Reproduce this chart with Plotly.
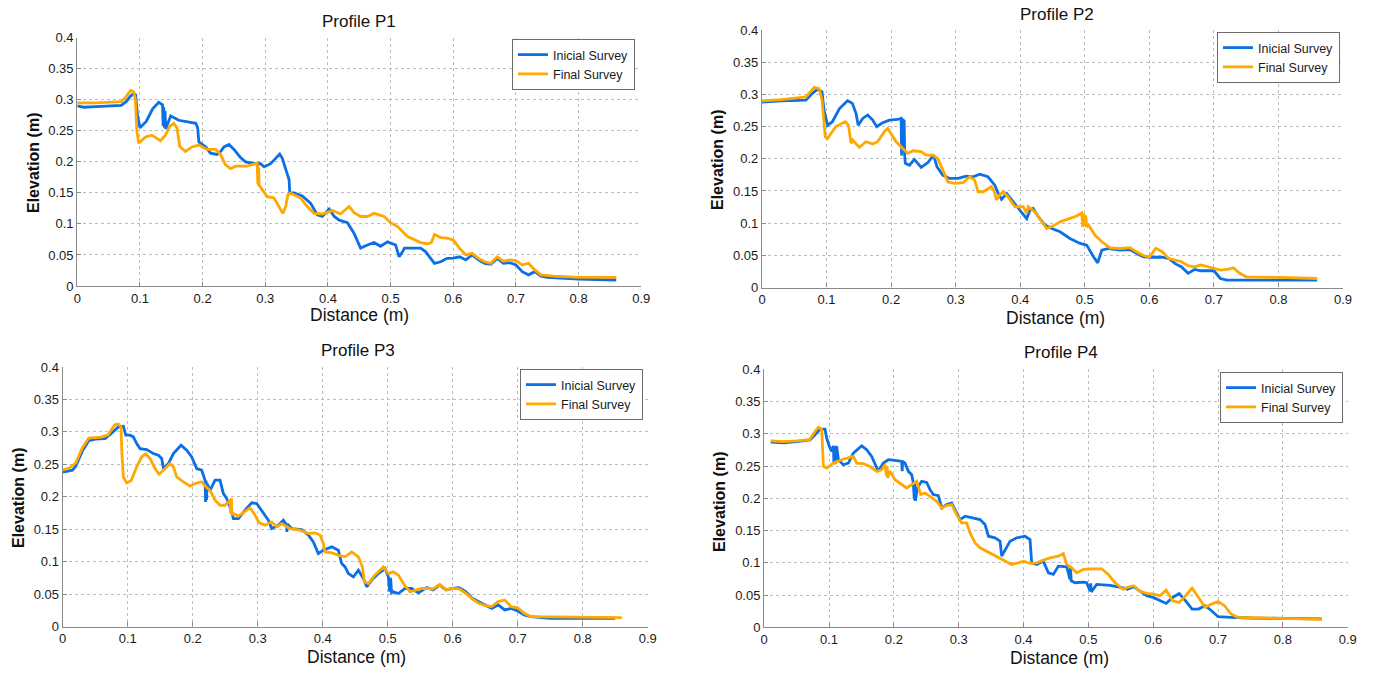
import plotly.graph_objects as go

W, H = 1376, 673

# ---------------- data (distance m, elevation m) ----------------
p1_ini_x = [0, 0.01, 0.03, 0.05, 0.07, 0.078, 0.085, 0.09, 0.093, 0.096, 0.1, 0.11, 0.12, 0.13, 0.135,
            0.136, 0.137, 0.138, 0.139, 0.140, 0.141, 0.145, 0.149, 0.162, 0.175, 0.189, 0.192, 0.194, 0.205,
            0.2125, 0.223, 0.229, 0.234, 0.242, 0.25, 0.255, 0.26, 0.2685, 0.279, 0.2925, 0.298, 0.3085,
            0.3165, 0.323, 0.327, 0.3325, 0.338, 0.339, 0.346, 0.359, 0.3725, 0.383, 0.391, 0.402, 0.41,
            0.418, 0.431, 0.4415, 0.452, 0.463, 0.4735, 0.484, 0.495, 0.508, 0.5135, 0.519, 0.522, 0.548,
            0.556, 0.562, 0.57, 0.58, 0.59, 0.60, 0.61, 0.62, 0.63, 0.64, 0.65, 0.66, 0.67, 0.68, 0.69,
            0.70, 0.71, 0.72, 0.73, 0.74, 0.75, 0.8, 0.86]
p1_ini_y = [0.29, 0.288, 0.289, 0.29, 0.291, 0.297, 0.306, 0.31, 0.308, 0.275, 0.255, 0.265, 0.285, 0.296, 0.293,
            0.292, 0.258, 0.288, 0.255, 0.282, 0.253, 0.265, 0.274, 0.267, 0.265, 0.262, 0.255, 0.232, 0.224,
            0.214, 0.212, 0.217, 0.224, 0.228, 0.22, 0.214, 0.2075, 0.2, 0.198, 0.197, 0.192, 0.197,
            0.206, 0.2125, 0.206, 0.187, 0.171, 0.15, 0.15, 0.145, 0.133, 0.1145, 0.112, 0.124, 0.112,
            0.106, 0.102, 0.085, 0.061, 0.066, 0.07, 0.064, 0.071, 0.066, 0.047, 0.055, 0.061, 0.061,
            0.055, 0.047, 0.0365, 0.039, 0.0445, 0.045, 0.047, 0.042, 0.05, 0.042, 0.0365, 0.035, 0.0445, 0.0365, 0.0375,
            0.034, 0.023, 0.018, 0.023, 0.016, 0.014, 0.011, 0.0097]

p1_fin_x = [0, 0.03, 0.07, 0.078, 0.085, 0.09, 0.0927, 0.095, 0.098, 0.1087, 0.119, 0.127, 0.1327, 0.1406,
            0.1475, 0.154, 0.159, 0.1635, 0.1726, 0.183, 0.194, 0.207, 0.2206, 0.2285, 0.2366, 0.2445, 0.2525,
            0.271, 0.2818, 0.287, 0.288, 0.2885, 0.289, 0.2895, 0.29, 0.295, 0.303, 0.3136, 0.3217, 0.328,
            0.3325, 0.336, 0.34, 0.356, 0.367, 0.378, 0.391, 0.407, 0.42, 0.4337, 0.4417, 0.452, 0.463,
            0.4735, 0.4896, 0.5, 0.511, 0.527, 0.548, 0.559, 0.565, 0.57, 0.58, 0.59, 0.60, 0.61, 0.62, 0.63,
            0.64, 0.65, 0.66, 0.67, 0.68, 0.69, 0.70, 0.71, 0.72, 0.73, 0.74, 0.76, 0.8, 0.86]
p1_fin_y = [0.295, 0.295, 0.297, 0.305, 0.315, 0.313, 0.30, 0.25, 0.23, 0.24, 0.243, 0.238, 0.234, 0.243,
            0.257, 0.262, 0.255, 0.2247, 0.2167, 0.224, 0.227, 0.22, 0.22, 0.212, 0.195, 0.189, 0.193,
            0.193, 0.197, 0.198, 0.165, 0.195, 0.162, 0.19, 0.1625, 0.155, 0.144, 0.142, 0.128, 0.117,
            0.128, 0.1468, 0.1495, 0.142, 0.128, 0.117, 0.116, 0.1215, 0.116, 0.128, 0.118, 0.112, 0.112,
            0.117, 0.112, 0.102, 0.0957, 0.0796, 0.07, 0.068, 0.07, 0.083, 0.078, 0.077, 0.074, 0.0607, 0.05, 0.0526,
            0.0445, 0.039, 0.0365, 0.047, 0.04, 0.042, 0.041, 0.034, 0.0365, 0.026, 0.018, 0.016, 0.014, 0.014]

p2_ini_x = [0, 0.03, 0.068, 0.078, 0.086, 0.093, 0.096, 0.1016, 0.109, 0.12, 0.1326, 0.14, 0.1456, 0.149,
            0.156, 0.1637, 0.1715, 0.1777, 0.187, 0.1974, 0.21, 0.2155, 0.2163, 0.217, 0.2178, 0.2186, 0.2194,
            0.2202, 0.221, 0.222, 0.2285, 0.236, 0.2466, 0.257, 0.2658, 0.271, 0.28, 0.2907, 0.3036, 0.3166,
            0.327, 0.3373, 0.35, 0.3606, 0.366, 0.371, 0.3788, 0.3865, 0.3995, 0.41, 0.415, 0.42, 0.428,
            0.4383, 0.4487, 0.4617, 0.477, 0.4927, 0.503, 0.5135, 0.52, 0.5264, 0.5368, 0.555, 0.57, 0.58,
            0.59, 0.60, 0.62, 0.63, 0.64, 0.65, 0.66, 0.67, 0.68, 0.70, 0.71, 0.72, 0.86]
p2_ini_y = [0.288, 0.29, 0.291, 0.3016, 0.308, 0.304, 0.276, 0.252, 0.2575, 0.278, 0.29, 0.286, 0.2705, 0.252,
            0.2627, 0.268, 0.26, 0.2497, 0.256, 0.26, 0.261, 0.2627, 0.205, 0.263, 0.21, 0.262, 0.215,
            0.26, 0.205, 0.193, 0.19, 0.199, 0.1865, 0.194, 0.2057, 0.1876, 0.1746, 0.1694, 0.1694, 0.173,
            0.172, 0.176, 0.172, 0.159, 0.146, 0.137, 0.146, 0.1357, 0.12, 0.107, 0.12, 0.1228, 0.11,
            0.097, 0.0917, 0.0865, 0.0762, 0.0684, 0.0658, 0.0477, 0.0383, 0.058, 0.0606, 0.058, 0.059, 0.053,
            0.048, 0.047, 0.047, 0.045, 0.037, 0.032, 0.022, 0.028, 0.026, 0.026, 0.014, 0.0115, 0.0115]

p2_fin_x = [0, 0.03, 0.068, 0.081, 0.0886, 0.093, 0.098, 0.1016, 0.1145, 0.129, 0.134, 0.138, 0.1404, 0.1456,
            0.1508, 0.161, 0.1715, 0.179, 0.1896, 0.1948, 0.2, 0.2078, 0.218, 0.2259, 0.2337, 0.2466, 0.2544,
            0.2648, 0.2725, 0.28, 0.288, 0.2985, 0.3114, 0.3218, 0.3295, 0.3347, 0.3425, 0.3554, 0.36, 0.363,
            0.368, 0.3736, 0.381, 0.3917, 0.4047, 0.41, 0.4124, 0.4228, 0.4305, 0.441, 0.4513, 0.4617, 0.477,
            0.4875, 0.4953, 0.497, 0.4985, 0.5, 0.5015, 0.503, 0.5057, 0.516, 0.5264, 0.5394, 0.555, 0.57,
            0.58, 0.59, 0.60, 0.61, 0.62, 0.63, 0.64, 0.65, 0.66, 0.67, 0.68, 0.69, 0.70, 0.71, 0.72, 0.73,
            0.74, 0.75, 0.8, 0.86]
p2_fin_y = [0.29, 0.292, 0.296, 0.311, 0.309, 0.291, 0.234, 0.2316, 0.25, 0.2575, 0.252, 0.224, 0.229, 0.224,
            0.2176, 0.2264, 0.223, 0.2264, 0.242, 0.247, 0.2394, 0.2264, 0.216, 0.2083, 0.2124, 0.211, 0.2057,
            0.2057, 0.2, 0.1824, 0.164, 0.1617, 0.1627, 0.172, 0.1668, 0.1487, 0.1487, 0.1565, 0.149, 0.136,
            0.1435, 0.1487, 0.141, 0.1254, 0.1254, 0.115, 0.1254, 0.1176, 0.107, 0.0917, 0.0958, 0.102, 0.1073,
            0.111, 0.116, 0.094, 0.115, 0.096, 0.112, 0.094, 0.097, 0.081, 0.071, 0.0617, 0.0606, 0.062,
            0.0556, 0.05, 0.047, 0.061, 0.0556, 0.045, 0.0426, 0.04, 0.034, 0.032, 0.035, 0.032, 0.03, 0.027, 0.028, 0.0306,
            0.022, 0.0166, 0.0156, 0.014]

p3_ini_x = [0, 0.01, 0.015, 0.02, 0.03, 0.04, 0.05, 0.0651, 0.0754, 0.0856, 0.0933, 0.097, 0.1036, 0.1087,
            0.1138, 0.119, 0.1292, 0.1395, 0.1472, 0.1523, 0.155, 0.1626, 0.1703, 0.182, 0.1908, 0.1985, 0.2062,
            0.2138, 0.219, 0.2198, 0.2206, 0.2214, 0.2222, 0.2267, 0.2344, 0.242, 0.2472, 0.2523, 0.2574,
            0.2626, 0.2703, 0.2805, 0.2908, 0.2985, 0.3062, 0.3164, 0.3215, 0.3318, 0.3395, 0.3446, 0.345,
            0.3455, 0.3523, 0.3677, 0.378, 0.3856, 0.3933, 0.401, 0.4138, 0.4241, 0.4292, 0.4344, 0.4395,
            0.4472, 0.4549, 0.4626, 0.4677, 0.4754, 0.4856, 0.4959, 0.501, 0.503, 0.5045, 0.506, 0.5087,
            0.5164, 0.5267, 0.5369, 0.5472, 0.56, 0.57, 0.58, 0.59, 0.60, 0.61, 0.62, 0.63, 0.64, 0.65, 0.66,
            0.67, 0.68, 0.69, 0.70, 0.71, 0.72, 0.75, 0.85]
p3_ini_y = [0.238, 0.2396, 0.241, 0.247, 0.27, 0.2864, 0.289, 0.2897, 0.298, 0.3077, 0.3087, 0.295, 0.295, 0.2923,
            0.282, 0.2743, 0.2728, 0.2666, 0.264, 0.259, 0.2435, 0.2512, 0.2666, 0.2795, 0.2718, 0.2615, 0.2435,
            0.241, 0.2256, 0.192, 0.225, 0.195, 0.22, 0.21, 0.2256, 0.2256, 0.205, 0.1973, 0.1845,
            0.1665, 0.1665, 0.1794, 0.1907, 0.1896, 0.1794, 0.164, 0.1511, 0.1563, 0.164, 0.1563, 0.146,
            0.158, 0.1511, 0.1496, 0.141, 0.1306, 0.1126, 0.1178, 0.1229, 0.1178, 0.0972, 0.092, 0.0818,
            0.0767, 0.087, 0.074, 0.0613, 0.0716, 0.0818, 0.0895, 0.0767, 0.054, 0.075, 0.052, 0.0536,
            0.051, 0.0587, 0.0587, 0.052, 0.06, 0.0566, 0.064, 0.0566, 0.059, 0.06, 0.054, 0.0437, 0.0386, 0.0334, 0.028,
            0.0334, 0.0257, 0.028, 0.024, 0.018, 0.0154, 0.0129, 0.0129]

p3_fin_x = [0, 0.01, 0.02, 0.03, 0.04, 0.06, 0.07, 0.08, 0.0856, 0.0897, 0.0908, 0.0933, 0.0985, 0.1051,
            0.1138, 0.1215, 0.1277, 0.1344, 0.1421, 0.1482, 0.155, 0.1651, 0.1703, 0.1754, 0.1856, 0.1959,
            0.2036, 0.2138, 0.2215, 0.2267, 0.2344, 0.242, 0.2497, 0.2574, 0.2585, 0.2595, 0.2605, 0.2626,
            0.2703, 0.2805, 0.2882, 0.2959, 0.302, 0.3113, 0.3215, 0.3292, 0.3369, 0.3497, 0.3651, 0.378,
            0.3882, 0.3959, 0.401, 0.4036, 0.4138, 0.4241, 0.4344, 0.4446, 0.4549, 0.461, 0.4641, 0.4703,
            0.4779, 0.4856, 0.4933, 0.501, 0.5087, 0.5164, 0.5241, 0.5344, 0.5446, 0.5523, 0.56, 0.57, 0.58,
            0.59, 0.60, 0.61, 0.62, 0.63, 0.64, 0.65, 0.66, 0.67, 0.68, 0.69, 0.70, 0.71, 0.72, 0.76, 0.86]
p3_fin_y = [0.2416, 0.244, 0.252, 0.275, 0.2905, 0.292, 0.2956, 0.311, 0.312, 0.3077, 0.2718, 0.2307, 0.2215, 0.2246,
            0.2461, 0.2615, 0.2666, 0.2589, 0.2435, 0.2348, 0.241, 0.2512, 0.2461, 0.2307, 0.223, 0.2163,
            0.2205, 0.223, 0.2143, 0.21, 0.1948, 0.187, 0.187, 0.1948, 0.175, 0.198, 0.172, 0.1742,
            0.1701, 0.1768, 0.183, 0.1717, 0.16, 0.1563, 0.1614, 0.1537, 0.1588, 0.1511, 0.1486, 0.1435,
            0.1445, 0.141, 0.128, 0.115, 0.1137, 0.1101, 0.1075, 0.115, 0.1075, 0.092, 0.069, 0.0664,
            0.0767, 0.0844, 0.092, 0.0818, 0.0844, 0.0793, 0.0664, 0.0536, 0.0562, 0.0587, 0.059, 0.058, 0.065,
            0.0566, 0.059, 0.058, 0.0514, 0.0427, 0.036, 0.0324, 0.0308, 0.0386, 0.041, 0.0308, 0.029, 0.0206, 0.0154, 0.015, 0.0139]

p4_ini_x = [0.01, 0.03, 0.05, 0.0707, 0.0784, 0.0861, 0.0938, 0.0964, 0.1005, 0.1041, 0.1067, 0.1075, 0.1085,
            0.1095, 0.1105, 0.1118, 0.1144, 0.1221, 0.1298, 0.1375, 0.1504, 0.1581, 0.1658, 0.171, 0.1761,
            0.1838, 0.1915, 0.2018, 0.2121, 0.2128, 0.2135, 0.2172, 0.2224, 0.2275, 0.23, 0.2315, 0.2322,
            0.2332, 0.2362, 0.2429, 0.2506, 0.2558, 0.2609, 0.2686, 0.2738, 0.2815, 0.2892, 0.2969, 0.302,
            0.3098, 0.3226, 0.3329, 0.3406, 0.3458, 0.356, 0.3638, 0.3663, 0.3715, 0.3792, 0.3895, 0.4023,
            0.41, 0.4126, 0.4203, 0.4306, 0.4383, 0.446, 0.4537, 0.4666, 0.4717, 0.4725, 0.4735, 0.4794,
            0.4923, 0.4974, 0.5026, 0.5035, 0.5045, 0.5128, 0.5334, 0.554, 0.56, 0.57, 0.58, 0.59, 0.60,
            0.61, 0.62, 0.63, 0.64, 0.65, 0.66, 0.67, 0.68, 0.69, 0.70, 0.72, 0.75, 0.86]
p4_ini_y = [0.287, 0.286, 0.288, 0.2907, 0.2985, 0.3072, 0.3072, 0.2933, 0.2804, 0.2727, 0.2814, 0.255, 0.28,
            0.253, 0.279, 0.2804, 0.2598, 0.252, 0.2546, 0.27, 0.2814, 0.2753, 0.265, 0.2546, 0.2418,
            0.2546, 0.2598, 0.2588, 0.2572, 0.242, 0.257, 0.2546, 0.2418, 0.2366, 0.2237, 0.198, 0.225,
            0.196, 0.216, 0.2263, 0.2247, 0.2134, 0.2057, 0.2041, 0.185, 0.1902, 0.1928, 0.1773, 0.167,
            0.1722, 0.1696, 0.167, 0.1593, 0.1412, 0.1387, 0.1335, 0.1103, 0.1206, 0.1335, 0.1387, 0.1412,
            0.136, 0.1, 0.0974, 0.1026, 0.0845, 0.082, 0.0948, 0.0938, 0.0742, 0.093, 0.072, 0.0691,
            0.0701, 0.0691, 0.0562, 0.068, 0.055, 0.0665, 0.065, 0.0613, 0.059, 0.063, 0.0556, 0.049, 0.0463,
            0.041, 0.037, 0.0463, 0.0525, 0.041, 0.0283, 0.0283, 0.0335, 0.0257, 0.0165, 0.0155, 0.0144, 0.013]

p4_fin_x = [0.01, 0.03, 0.05, 0.07, 0.0784, 0.0835, 0.0887, 0.0913, 0.0964, 0.1067, 0.1195, 0.1298, 0.1375,
            0.1427, 0.153, 0.1632, 0.1735, 0.1812, 0.1864, 0.1889, 0.1895, 0.1905, 0.1941, 0.2018, 0.2121,
            0.2198, 0.2275, 0.2352, 0.2414, 0.2481, 0.2558, 0.2661, 0.2738, 0.2815, 0.2892, 0.2969, 0.3046,
            0.3123, 0.3175, 0.3252, 0.3329, 0.3432, 0.356, 0.3689, 0.3817, 0.392, 0.3997, 0.41, 0.4203,
            0.4306, 0.4409, 0.4537, 0.4614, 0.4666, 0.4743, 0.482, 0.4923, 0.5077, 0.5206, 0.5308, 0.5411,
            0.554, 0.56, 0.57, 0.58, 0.59, 0.60, 0.61, 0.62, 0.63, 0.64, 0.65, 0.66, 0.67, 0.68, 0.69, 0.70,
            0.71, 0.72, 0.73, 0.8, 0.86]
p4_fin_y = [0.289, 0.288, 0.289, 0.291, 0.3036, 0.31, 0.307, 0.2495, 0.2469, 0.2546, 0.2598, 0.2624, 0.265,
            0.2546, 0.2536, 0.2495, 0.2418, 0.2443, 0.2521, 0.234, 0.25, 0.232, 0.2418, 0.2289, 0.2211,
            0.216, 0.2211, 0.2263, 0.2057, 0.2082, 0.2031, 0.1954, 0.185, 0.1887, 0.1902, 0.1747, 0.1618,
            0.1618, 0.1464, 0.1309, 0.1232, 0.118, 0.1103, 0.1041, 0.0974, 0.1, 0.1026, 0.099, 0.1,
            0.1041, 0.1077, 0.1103, 0.1144, 0.0974, 0.0923, 0.0845, 0.0897, 0.0907, 0.0907, 0.082, 0.0691,
            0.0588, 0.0618, 0.0644, 0.0556, 0.0525, 0.0515, 0.049, 0.0577, 0.041, 0.0386, 0.049, 0.0608, 0.0463,
            0.031, 0.036, 0.04, 0.0335, 0.0206, 0.0155, 0.0144, 0.0124]

titles = ["Profile P1", "Profile P2", "Profile P3", "Profile P4"]
series_names = ["Inicial Survey", "Final Survey"]
x_ticks = [0, 0.1, 0.2, 0.3, 0.4, 0.5, 0.6, 0.7, 0.8, 0.9]
y_ticks = [0, 0.05, 0.1, 0.15, 0.2, 0.25, 0.3, 0.35, 0.4]

# ---------------- layout geometry (pixels) ----------------
panels = [
    dict(xd=(77.3, 641.3), yd=(37.7, 286.0), title=(359, 21), xlab=(359, 315), ylab=(33, 163), leg=(635, 39),
         ini=(p1_ini_x, p1_ini_y), fin=(p1_fin_x, p1_fin_y)),
    dict(xd=(762.0, 1343.0), yd=(30.0, 287.5), title=(1057, 14), xlab=(1055, 318), ylab=(717, 160), leg=(1340, 32),
         ini=(p2_ini_x, p2_ini_y), fin=(p2_fin_x, p2_fin_y)),
    dict(xd=(62.7, 647.7), yd=(367.0, 626.6), title=(358, 350), xlab=(356, 657), ylab=(18, 498), leg=(643, 369),
         ini=(p3_ini_x, p3_ini_y), fin=(p3_fin_x, p3_fin_y)),
    dict(xd=(764.2, 1347.7), yd=(369.3, 627.3), title=(1061, 352), xlab=(1059, 658), ylab=(719, 502), leg=(1343, 372),
         ini=(p4_ini_x, p4_ini_y), fin=(p4_fin_x, p4_fin_y)),
]

def fx(px):
    return px / W

def fy(py):
    return 1 - py / H

BLUE = "#0b6fe6"
ORANGE = "#ffa800"
FONT = "Liberation Sans, Arial, sans-serif"

fig = go.Figure()
annotations = []
layout = dict(
    width=W, height=H, margin=dict(l=0, r=0, t=0, b=0, autoexpand=False),
    paper_bgcolor="white", plot_bgcolor="white",
    font=dict(family=FONT, color="#1a1a1a"),
)

for i, p in enumerate(panels):
    k = "" if i == 0 else str(i + 1)
    xa, ya = "x" + k, "y" + k
    leg = "legend" + k
    for (xs, ys), name, col in zip([p["ini"], p["fin"]], series_names, [BLUE, ORANGE]):
        fig.add_trace(go.Scatter(x=xs, y=ys, mode="lines", name=name, xaxis=xa, yaxis=ya, legend=leg,
                                 line=dict(color=col, width=2.8)))
    common = dict(showgrid=True, gridcolor="#bdbdbd", griddash="dot", gridwidth=1,
                  showline=True, linecolor="#8a8a8a", linewidth=1.3, automargin=False,
                  ticks="inside", ticklen=4, tickcolor="#8a8a8a",
                  tickfont=dict(size=13, family=FONT, color="#1a1a1a"), zeroline=False, fixedrange=True)
    layout["xaxis" + k] = dict(domain=[fx(p["xd"][0]), fx(p["xd"][1])], range=[0, 0.9],
                               tickvals=x_ticks, ticktext=[f"{v:g}" for v in x_ticks],
                               anchor=ya, **common)
    layout["yaxis" + k] = dict(domain=[fy(p["yd"][1]), fy(p["yd"][0])], range=[0, 0.4],
                               tickvals=y_ticks, ticktext=[f"{v:g}" for v in y_ticks],
                               anchor=xa, **common)
    layout[leg] = dict(x=fx(p["leg"][0]), y=fy(p["leg"][1]), xanchor="right", yanchor="top",
                       bgcolor="white", bordercolor="#6b6b6b", borderwidth=1,
                       font=dict(size=12.5, family=FONT, color="#1a1a1a"), tracegroupgap=0)
    annotations.append(dict(text=titles[i], x=fx(p["title"][0]), y=fy(p["title"][1]), xref="paper", yref="paper",
                            xanchor="center", yanchor="middle", showarrow=False,
                            font=dict(size=17, family=FONT, color="#111")))
    annotations.append(dict(text="Distance (m)", x=fx(p["xlab"][0]), y=fy(p["xlab"][1]), xref="paper", yref="paper",
                            xanchor="center", yanchor="middle", showarrow=False,
                            font=dict(size=17.5, family=FONT, color="#111")))
    annotations.append(dict(text="<b>Elevation (m)</b>", x=fx(p["ylab"][0]), y=fy(p["ylab"][1]), xref="paper",
                            yref="paper", xanchor="center", yanchor="middle", showarrow=False, textangle=-90,
                            font=dict(size=16, family=FONT, color="#111")))

layout["annotations"] = annotations
fig.update_layout(**layout)
fig.write_html("out.html", config={"displayModeBar": False},
               post_script="document.documentElement.style.margin='0';document.body.style.margin='0';"
                           "document.body.style.padding='0';document.body.style.overflow='hidden';")
